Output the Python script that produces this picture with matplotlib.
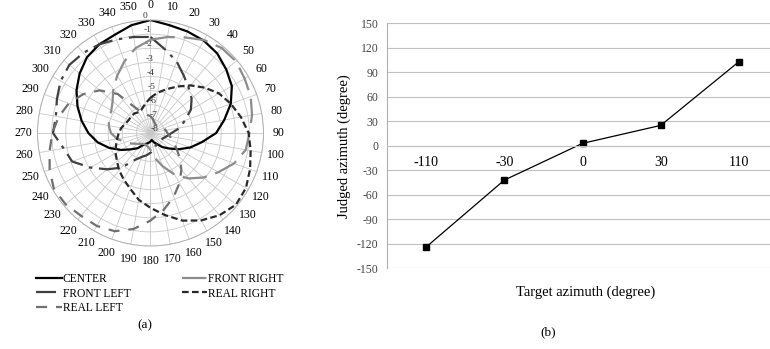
import numpy as np
import matplotlib
matplotlib.use("Agg")
import matplotlib.pyplot as plt

plt.rcParams['font.family'] = ['Liberation Serif', 'DejaVu Serif']

# (a) polar response, dB-like levels, one value every 10 degrees (0..350)
angles = list(range(0, 360, 10))
center = [0, -0.25, -0.35, -0.45, -0.65, -1.0, -1.35, -1.95, -2.7, -3.35,
          -4.3, -5.0, -5.7, -6.3, -6.7, -7.1, -7.3, -7.5, -7.4, -7.3,
          -7.2, -7.05, -6.6, -6.2, -5.6, -4.9, -4.2, -3.6, -3.05, -2.5,
          -1.95, -1.45, -1.0, -0.75, -0.6, -0.25]
front_left = [-1.2, -2.0, -2.6, -3.3, -3.8, -4.2, -4.7, -5.4, -5.9, -6.5,
              -6.8, -7.0, -7.1, -7.2, -7.2, -7.1, -7.0, -6.8, -6.6, -6.4,
              -6.2, -5.8, -4.8, -4.0, -3.1, -2.1, -1.75, -1.1, -1.2, -0.95,
              -0.65, -0.5, -0.6, -0.75, -0.95, -1.1]
front_right = [-1.4, -1.1, -0.8, -0.4, -0.15, -0.1, -0.3, -0.45, -0.7, -1.0,
               -1.15, -1.7, -2.45, -3.1, -3.8, -4.6, -5.5, -6.2, -6.8, -7.0,
               -7.1, -7.1, -7.0, -6.8, -6.5, -6.1, -5.6, -5.2, -5.0, -4.9,
               -4.8, -4.5, -3.9, -3.3, -2.6, -1.9]
real_left = [-6.8, -7.0, -7.2, -7.3, -7.3, -7.2, -7.1, -7.0, -6.9, -6.8,
             -6.6, -6.3, -5.9, -5.3, -4.6, -3.9, -3.2, -2.5, -1.8, -1.1,
             -0.6, -0.4, -0.35, -0.15, -0.1, -0.4, -0.75, -1.05, -1.4, -1.85,
             -2.5, -3.3, -4.4, -6.0, -6.5, -6.7]
real_right = [-5.5, -5.1, -4.7, -4.2, -3.6, -3.0, -2.4, -1.95, -1.5, -1.05,
              -0.8, -0.5, -0.2, -0.1, -0.4, -0.85, -1.4, -2.1, -2.7, -3.2,
              -3.8, -4.2, -4.55, -4.9, -5.15, -5.4, -5.6, -5.75, -5.9, -6.1,
              -6.2, -6.2, -6.2, -6.3, -6.2, -5.9]
r_ticks = [0, -1, -2, -3, -4, -5, -6, -7, -8]

# (b) judged vs target azimuth
targets = ['-110', '-30', '0', '30', '110']
judged = [-124, -42, 3, 25, 103]
y_ticks = [-150, -120, -90, -60, -30, 0, 30, 60, 90, 120, 150]

fig = plt.figure(figsize=(7.7, 3.49), dpi=100)

ax = fig.add_axes([0.0487, 0.2951, 0.2935, 0.6476], projection='polar')
ax.set_theta_zero_location('N')
ax.set_theta_direction(-1)
th = np.deg2rad(angles + [angles[0]])

def closed(v):
    return v + [v[0]]

ax.plot(th, closed(center), color='black', lw=1.6, label='CENTER')
ax.plot(th, closed(front_left), color='#404040', lw=1.6,
        dashes=(9, 3, 1.5, 3), label='FRONT LEFT')
ax.plot(th, closed(real_left), color='#707070', lw=1.6,
        dashes=(5, 4), label='REAL LEFT')
ax.plot(th, closed(front_right), color='#8c8c8c', lw=1.6,
        dashes=(11, 4), label='FRONT RIGHT')
ax.plot(th, closed(real_right), color='#2a2a2a', lw=1.6,
        dashes=(3, 1.5), label='REAL RIGHT')

ax.set_ylim(-8, 0)
ax.set_yticks(r_ticks)
ax.set_yticklabels([str(v) for v in r_ticks], fontsize=6.8, color='#333333')
ax.set_rlabel_position(356)
ax.set_xticks(np.deg2rad(angles))
ax.set_xticklabels([str(a) for a in angles], fontsize=8.5)
ax.tick_params(axis='x', pad=0)
ax.grid(True, color='#c8c8c8', lw=0.6)
ax.spines['polar'].set_color('#b0b0b0')
ax.spines['polar'].set_linewidth(0.7)

ax.legend(loc='upper left', bbox_to_anchor=(-0.025, -0.1), ncol=2,
          frameon=False, fontsize=8.3, handlelength=2.2, handletextpad=0.1,
          columnspacing=4.4, labelspacing=0.2, borderaxespad=0)

fig.text(0.188, 0.068, '(a)', ha='center', va='center', fontsize=9.5)

# (b)
bx = fig.add_axes([0.5026, 0.2312, 0.5078, 0.702])
x = np.arange(len(targets))
bx.plot(x, judged, color='black', lw=0.9, marker='s', ms=4.5,
        markerfacecolor='black')
bx.set_xlim(-0.5, 4.5)
bx.set_ylim(-150, 150)
bx.set_yticks(y_ticks)
bx.set_yticklabels([str(v) for v in y_ticks], fontsize=8.5, color='#444444')
bx.set_xticks(x)
bx.set_xticklabels(targets, fontsize=8.5, color='#444444')
bx.yaxis.grid(True, color='#c0c0c0', lw=0.8)
bx.set_axisbelow(True)
for s in ['top', 'right']:
    bx.spines[s].set_visible(False)
bx.spines['left'].set_color('#b0b0b0')
bx.spines['bottom'].set_position(('data', 0))
bx.spines['bottom'].set_color('#c0c0c0')
bx.spines['bottom'].set_linewidth(0.8)
bx.tick_params(axis='both', length=0)
bx.tick_params(axis='x', pad=7)
bx.tick_params(axis='y', pad=6)
bx.set_ylabel('Judged azimuth (degree)', fontsize=10.5, labelpad=4)

fig.text(0.760, 0.164, 'Target azimuth (degree)', ha='center', va='center',
         fontsize=10.5)
fig.text(0.712, 0.049, '(b)', ha='center', va='center', fontsize=9.5)

fig.savefig('out.png', dpi=100)
